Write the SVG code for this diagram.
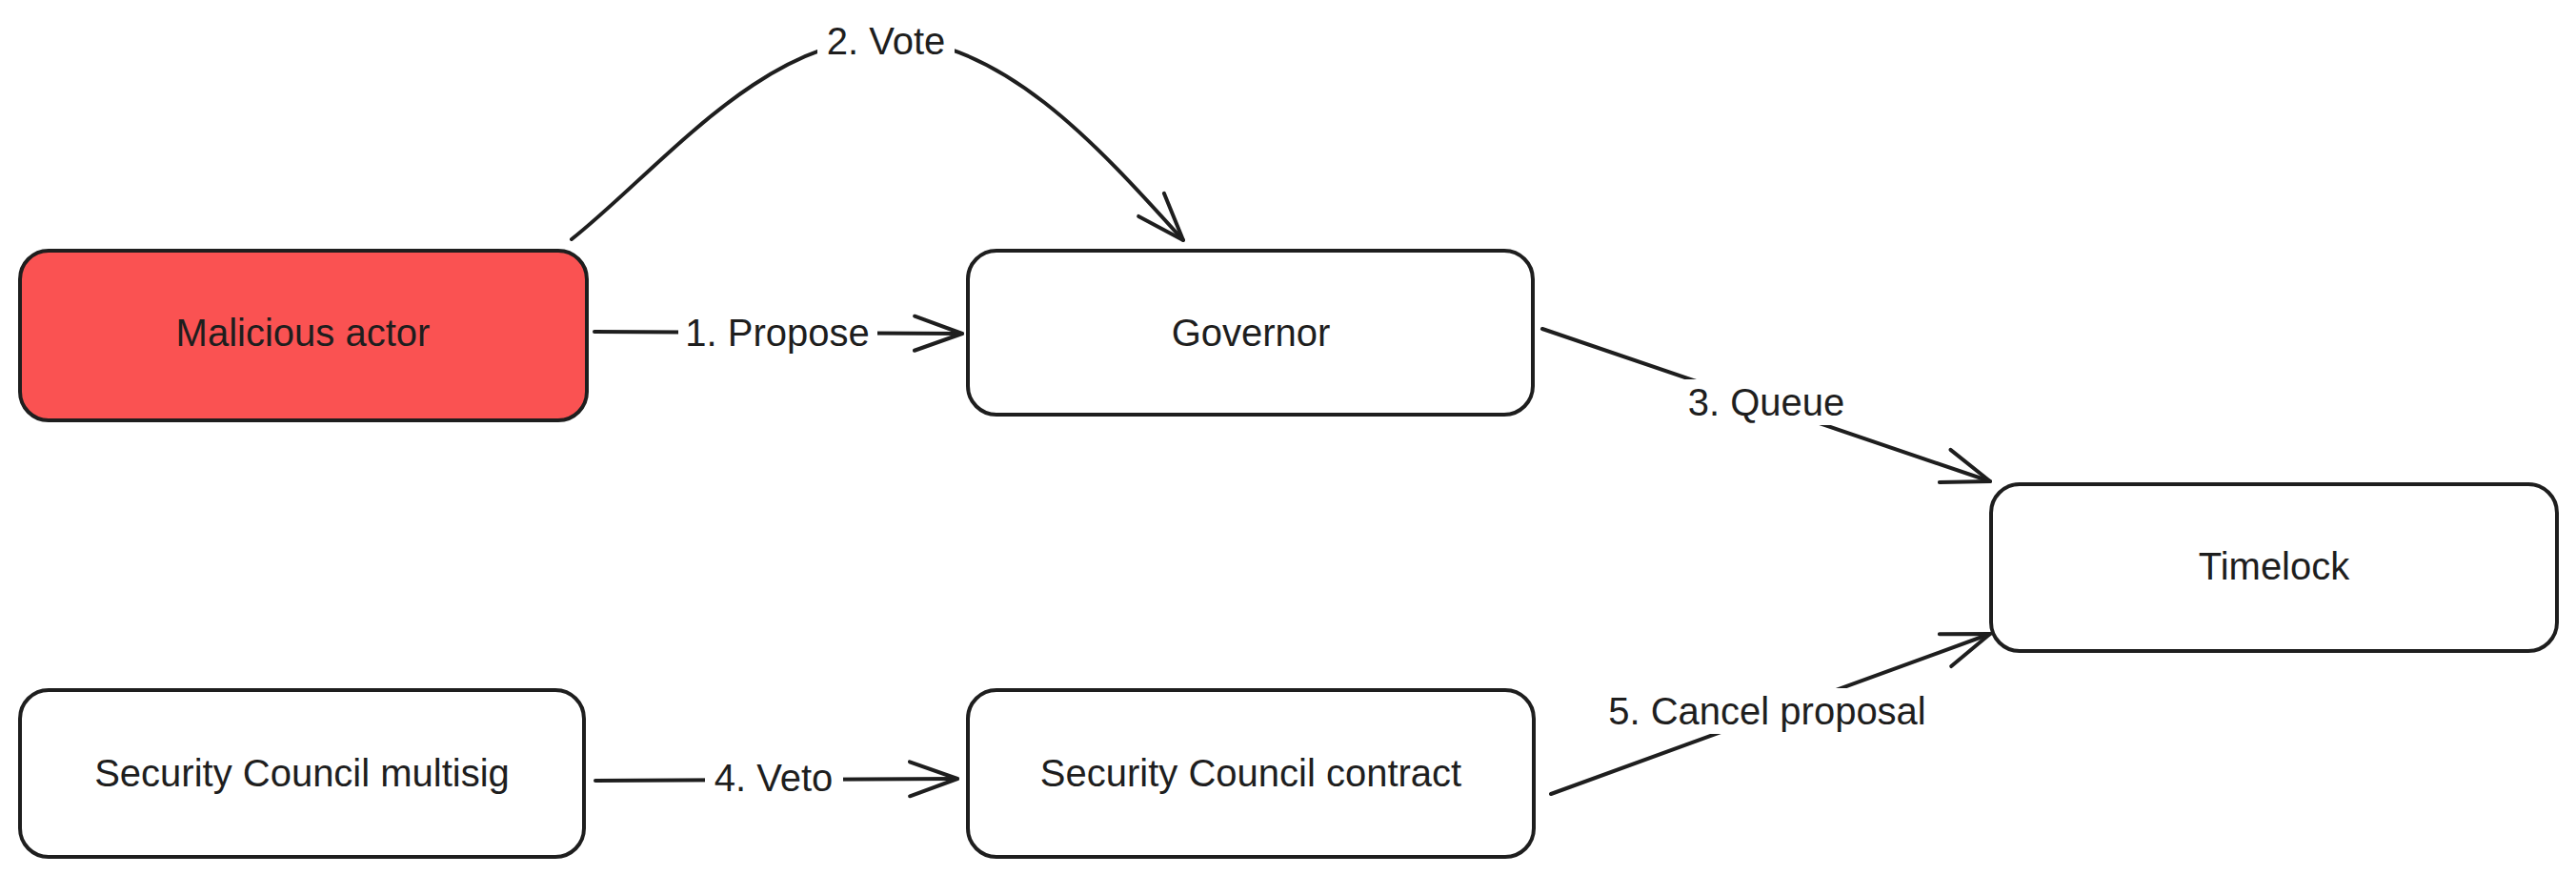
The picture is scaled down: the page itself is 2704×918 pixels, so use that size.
<svg xmlns="http://www.w3.org/2000/svg" width="2704" height="918" viewBox="0 0 2704 918">
<style>
.node rect{stroke:#1e1e1e;stroke-width:4;}
.t{font-family:"Liberation Sans",Arial,sans-serif;font-size:40px;fill:#1e1e1e;text-anchor:middle;dominant-baseline:central;}
.edge{fill:none;stroke:#1e1e1e;stroke-width:4;stroke-linecap:round;marker-end:url(#arrow);}
.bg{fill:#ffffff;}
</style>
<defs>
<marker id="arrow" markerUnits="userSpaceOnUse" viewBox="-60 -30 70 60" refX="0" refY="0" markerWidth="70" markerHeight="60" orient="auto">
<path d="M -50 -18 L 0 0 L -50 18" fill="none" stroke="#1e1e1e" stroke-width="4" stroke-linecap="round" stroke-linejoin="round"/>
</marker>
</defs>
<rect width="2704" height="918" fill="#ffffff"/>
<g id="connectors">
<path class="edge" d="M 624 348 L 1010 350"/>
<path class="edge" d="M 600 251 C 690 180 800 40 930 40 C 1050 40 1150 150 1242 252"/>
<path class="edge" d="M 1619 345 L 2089 505"/>
<path class="edge" d="M 625 819 L 1005 817"/>
<path class="edge" d="M 1628 833 L 2089 665"/>
<g id="labels">
<rect class="bg" x="712" y="326" width="209" height="46"/>
<text class="t" x="816" y="349">1. Propose</text>
<rect class="bg" x="858" y="18" width="144" height="50"/>
<text class="t" x="930" y="43">2. Vote</text>
<rect class="bg" x="1768" y="398" width="172" height="48"/>
<text class="t" x="1854" y="422">3. Queue</text>
<rect class="bg" x="740" y="795" width="145" height="45"/>
<text class="t" x="812" y="816">4. Veto</text>
<rect class="bg" x="1684" y="722" width="342" height="48"/>
<text class="t" x="1855" y="746">5. Cancel proposal</text>
</g>
</g>
<g id="malicious-actor" class="node">
<rect x="21" y="263" width="595" height="178" rx="30" fill="#fa5252"/>
<text class="t" x="318" y="349">Malicious actor</text>
</g>
<g id="governor" class="node">
<rect x="1016" y="263" width="593" height="172" rx="30" fill="#ffffff"/>
<text class="t" x="1313" y="349">Governor</text>
</g>
<g id="timelock" class="node">
<rect x="2090" y="508" width="594" height="175" rx="30" fill="#ffffff"/>
<text class="t" x="2387" y="594">Timelock</text>
</g>
<g id="security-council-multisig" class="node">
<rect x="21" y="724" width="592" height="175" rx="30" fill="#ffffff"/>
<text class="t" x="317" y="811">Security Council multisig</text>
</g>
<g id="security-council-contract" class="node">
<rect x="1016" y="724" width="594" height="175" rx="30" fill="#ffffff"/>
<text class="t" x="1313" y="811">Security Council contract</text>
</g>
</svg>
